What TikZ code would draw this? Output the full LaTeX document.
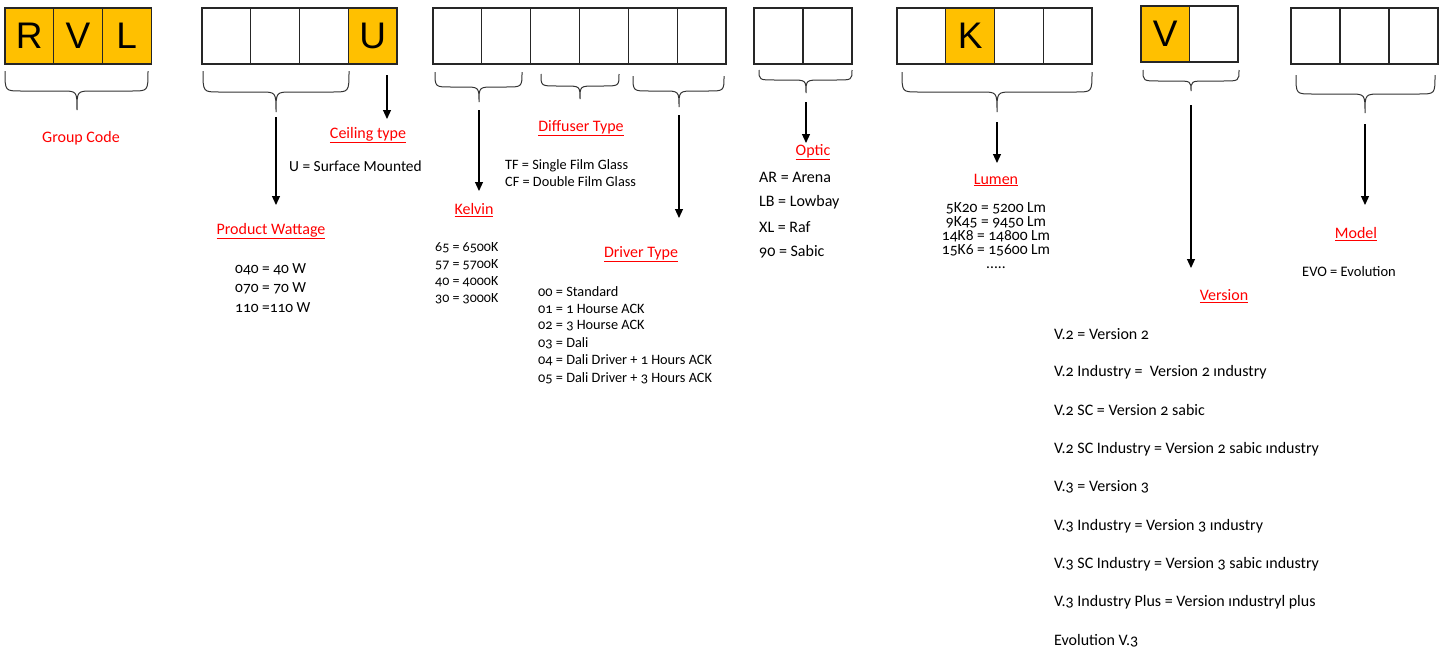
\documentclass[tikz,border=0pt]{standalone}
\usepackage{fontspec}
\setmainfont{Carlito}[Numbers=OldStyle]
\newfontfamily\arialf{Liberation Sans}
\usetikzlibrary{arrows.meta}
\definecolor{gold}{HTML}{FFC000}
\definecolor{lblred}{HTML}{FF0000}
\tikzset{
  cell/.style={draw=black!85, line width=1.2pt, minimum height=56pt, inner sep=0pt, outer sep=0pt, anchor=north west, font=\arialf\fontsize{37}{40}\selectfont},
  hi/.style={cell, fill=gold},
  bracestyle/.style={line width=1pt, draw=black!80},
  conn/.style={line width=1.2pt, -{Triangle[length=9pt,width=8pt]}},
  head/.style={text=lblred, font=\fontsize{16}{19}\selectfont, inner sep=0pt},
  body/.style={font=\fontsize{16}{19}\selectfont, inner sep=0pt, anchor=west},
  mid/.style={font=\fontsize{15.4}{18}\selectfont, inner sep=0pt, anchor=west},
  small/.style={font=\fontsize{14.3}{17}\selectfont, inner sep=0pt, anchor=west},
  lum/.style={font=\fontsize{15.5}{14}\selectfont, inner sep=0pt, align=center, anchor=north}
}
\newcommand\mybrace[7]{%
  \draw[bracestyle] (#1,#4) .. controls (#1,#5) and (#1,#5) .. ({#1+16},#5) -- ({#3-16},#5)
    .. controls (#3,#5) and (#3,#5) .. (#3,#6)
    .. controls (#3,#5) and (#3,#5) .. ({#3+16},#5) -- ({#2-16},#5)
    .. controls (#2,#5) and (#2,#5) .. (#2,#4);
  \coordinate (#7) at (#3,#6);}
\begin{document}
\begin{tikzpicture}[x=1pt,y=-1pt]
\useasboundingbox[fill=white] (0,0) rectangle (1449,653);

% Group 1
\node[hi, minimum width=48.7pt] (g1a) at (5,8) {R};
\node[hi, minimum width=48.7pt] (g1b) at (53.7,8) {V};
\node[hi, minimum width=48.7pt] (g1c) at (102.4,8) {L};
\mybrace{5}{148}{77}{71}{91}{110}{br1}
\node[head] (lgroup) at (81,138) {Group Code};

% Group 2
\node[cell, minimum width=48.75pt] (g2a) at (202,8) {};
\node[cell, minimum width=48.75pt] (g2b) at (250.75,8) {};
\node[cell, minimum width=48.75pt] (g2c) at (299.5,8) {};
\node[hi, minimum width=48.75pt] (g2d) at (348.25,8) {U};
\mybrace{203}{349}{276}{71}{92}{112}{br2}
\coordinate (wattend) at (276,205);
\draw[conn, shorten <=5pt] (br2) -- (wattend);
\coordinate (ceilstart) at (387,75);
\coordinate (ceilend) at (387,119);
\draw[conn] (ceilstart) -- (ceilend);
\node[head] (lceil) at (368,135) {\underline{Ceiling type}};
\node[mid] (tceil) at (289,166) {U = Surface Mounted};
\node[head] (lwatt) at (271,231) {\underline{Product Wattage}};
\node[mid] (w1) at (235,269) {040 = 40 W};
\node[mid] (w2) at (235,288) {070 = 70 W};
\node[mid] (w3) at (235,308) {110 =110 W};

% Group 3
\foreach \i in {0,...,5} {
  \node[cell, minimum width=48.83pt] (g3\i) at ({433+48.83*\i},8) {};
}
\mybrace{435}{522}{479}{72}{87}{102}{br3a}
\mybrace{541}{619}{580}{74}{86}{99}{br3b}
\mybrace{633}{724}{679}{76}{91}{107}{br3c}
\coordinate (kelend) at (479,191);
\draw[conn, shorten <=8pt] (br3a) -- (kelend);
\coordinate (drvend) at (679,218);
\draw[conn, shorten <=8pt] (br3c) -- (drvend);
\node[head] (ldiff) at (581,128) {\underline{Diffuser Type}};
\node[small] (tf) at (505,166) {TF = Single Film Glass};
\node[small] (cf) at (505,182) {CF = Double Film Glass};
\node[head] (lkel) at (474,210) {\underline{Kelvin}};
\node[small, font=\fontsize{14}{17}\selectfont] (k1) at (435,248) {65 = 6500K};
\node[small, font=\fontsize{14}{17}\selectfont] (k2) at (435,265) {57 = 5700K};
\node[small, font=\fontsize{14}{17}\selectfont] (k3) at (435,282) {40 = 4000K};
\node[small, font=\fontsize{14}{17}\selectfont] (k4) at (435,299) {30 = 3000K};
\node[head] (ldrv) at (641,254) {\underline{Driver Type}};
\node[small] (d0) at (538,292) {00 = Standard};
\node[small] (d1) at (538,309) {01 = 1 Hourse ACK};
\node[small] (d2) at (538,326) {02 = 3 Hourse ACK};
\node[small] (d3) at (538,343) {03 = Dali};
\node[small] (d4) at (538,360) {04 = Dali Driver + 1 Hours ACK};
\node[small] (d5) at (538,378) {05 = Dali Driver + 3 Hours ACK};

% Group 4
\node[cell, minimum width=49pt] (g4a) at (754,8) {};
\node[cell, minimum width=49pt] (g4b) at (803,8) {};
\mybrace{759}{852}{806}{70}{80}{93}{br4}
\coordinate (optend) at (806,143);
\draw[conn, shorten <=9pt] (br4) -- (optend);
\node[head] (lopt) at (813,152) {\underline{Optic}};
\node[body] (o1) at (759,177) {AR = Arena};
\node[body] (o2) at (759,202) {LB = Lowbay};
\node[body] (o3) at (759,227) {XL = Raf};
\node[body] (o4) at (759,252) {90 = Sabic};

% Group 5
\node[cell, minimum width=48.75pt] (g5a) at (897,8) {};
\node[hi, minimum width=48.75pt] (g5b) at (945.75,8) {K};
\node[cell, minimum width=48.75pt] (g5c) at (994.5,8) {};
\node[cell, minimum width=48.75pt] (g5d) at (1043.25,8) {};
\mybrace{902}{1092}{997}{72}{92}{112}{br5}
\coordinate (lumend) at (997,163);
\draw[conn, shorten <=10pt] (br5) -- (lumend);
\node[head] (llum) at (996,180) {\underline{Lumen}};
\node[lum] (lumvals) at (996,202) {5K20 = 5200 Lm\\9K45 = 9450 Lm\\14K8 = 14800 Lm\\15K6 = 15600 Lm\\.....};

% Group 6
\node[hi, minimum width=48.5pt] (g6a) at (1141,6) {V};
\node[cell, minimum width=48.5pt] (g6b) at (1189.5,6) {};
\mybrace{1143}{1239}{1191}{70}{81}{91}{br6}
\coordinate (verend) at (1191,268);
\draw[conn, shorten <=14pt] (br6) -- (verend);
\node[head] (lver) at (1224,296) {\underline{Version}};
\node[body] (v1) at (1054,334) {V.2 = Version 2};
\node[body] (v2) at (1054,372) {V.2 Industry = \ Version 2 ındustry};
\node[body] (v3) at (1054,410) {V.2 SC = Version 2 sabic};
\node[body] (v4) at (1054,449) {V.2 SC Industry = Version 2 sabic ındustry};
\node[body] (v5) at (1054,487) {V.3 = Version 3};
\node[body] (v6) at (1054,526) {V.3 Industry = Version 3 ındustry};
\node[body] (v7) at (1054,564) {V.3 SC Industry = Version 3 sabic ındustry};
\node[body] (v8) at (1054,602) {V.3 Industry Plus = Version ındustryl plus};
\node[body] (v9) at (1054,641) {Evolution V.3};

% Group 7
\node[cell, minimum width=49pt] (g7a) at (1291,8) {};
\node[cell, minimum width=49pt] (g7b) at (1340,8) {};
\node[cell, minimum width=49pt] (g7c) at (1389,8) {};
\mybrace{1296}{1435}{1365}{75}{94}{113}{br7}
\coordinate (modend) at (1365,205);
\draw[conn, shorten <=11pt] (br7) -- (modend);
\node[head] (lmod) at (1356,234) {\underline{Model}};
\node[small, font=\fontsize{14.5}{17}\selectfont] (evo) at (1302,272) {EVO = Evolution};
\end{tikzpicture}
\end{document}
